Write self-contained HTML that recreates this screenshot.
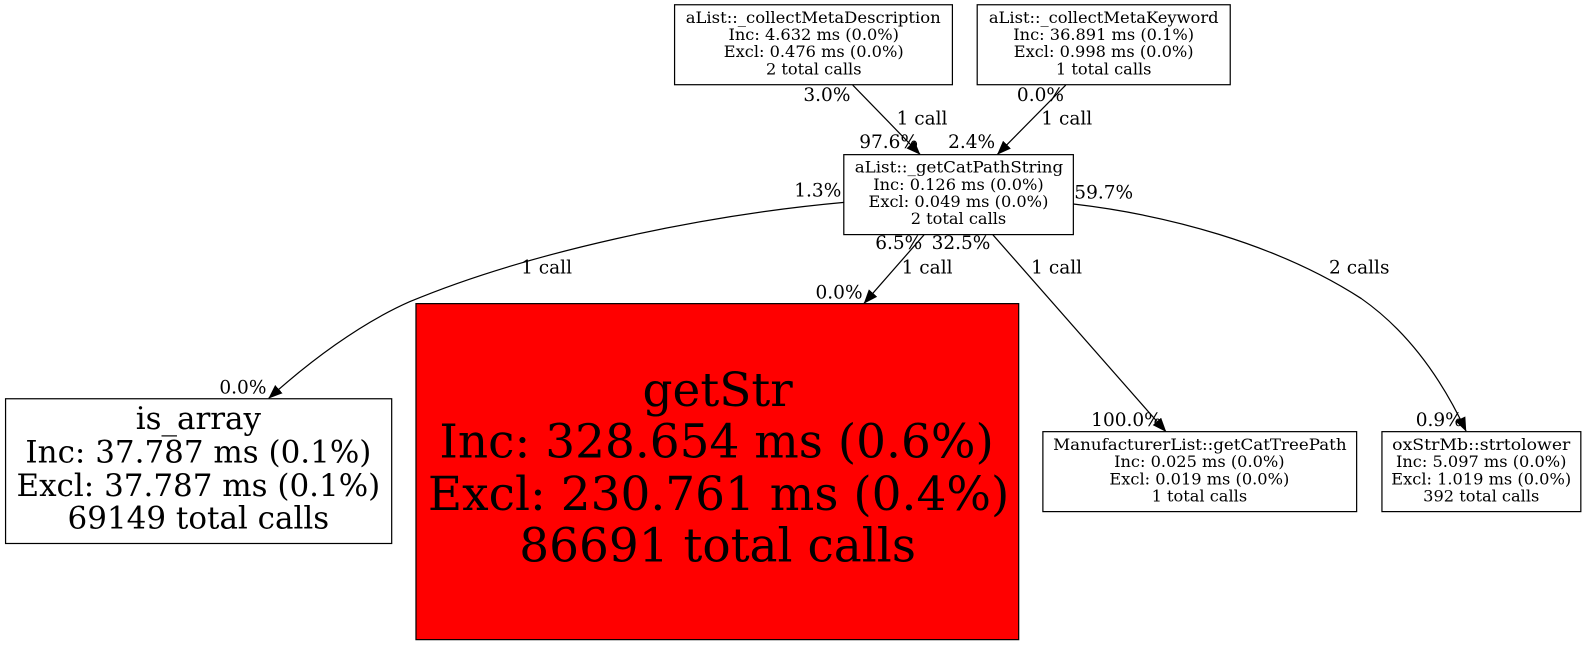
<!DOCTYPE html>
<html><head><meta charset="utf-8"><style>
html,body{margin:0;padding:0;background:#fff;width:1587px;height:645px;overflow:hidden}
svg{display:block}
text{font-family:"DejaVu Serif","Liberation Serif",serif;text-anchor:middle;fill:#000}
</style></head><body>
<svg width="1587" height="645" viewBox="0 0 1568 637.3" preserveAspectRatio="none" xmlns="http://www.w3.org/2000/svg">
<defs><marker id="a" markerWidth="14" markerHeight="12" refX="13.5" refY="5.5" orient="auto" markerUnits="userSpaceOnUse"><path d="M0,0L14,5.5L0,11Z" fill="#000"/></marker></defs>
<g fill="#fff" stroke="#000" stroke-width="1.2">
<rect x="666.5" y="4.7" width="274.5" height="79"/>
<rect x="965.5" y="4.7" width="250" height="79"/>
<rect x="833.7" y="152.8" width="226.8" height="79"/>
<rect x="5.5" y="394" width="381.5" height="143"/>
<rect x="411" y="300" width="595.5" height="332" fill="#f00"/>
<rect x="1030.4" y="426.5" width="310" height="79"/>
<rect x="1365.4" y="426.5" width="196.5" height="79"/>
</g>
<g fill="none" stroke="#000" stroke-width="1.2">
<path d="M842.5,84L909,152.5" marker-end="url(#a)"/>
<path d="M1053,84L985.5,152.5" marker-end="url(#a)"/>
<path d="M834,200C690,213 520,250 405,298C355,320 305,358 265.5,393.5" marker-end="url(#a)"/>
<path d="M913,232L853.7,299.7" marker-end="url(#a)"/>
<path d="M981,232L1152,426.5" marker-end="url(#a)"/>
<path d="M1060.5,201.6C1150,212 1260,240 1345,295C1395,330 1427,380 1448.5,426" marker-end="url(#a)"/>
</g>
<g font-size="16">
<text x="803.5" y="22.5" textLength="252" lengthAdjust="spacingAndGlyphs">aList::_collectMetaDescription</text>
<text x="804" y="39.5">Inc: 4.632 ms (0.0%)</text>
<text x="804" y="56.5">Excl: 0.476 ms (0.0%)</text>
<text x="804" y="73.5">2 total calls</text>
<text x="1090.5" y="22.5" textLength="227" lengthAdjust="spacingAndGlyphs">aList::_collectMetaKeyword</text>
<text x="1090.5" y="39.5">Inc: 36.891 ms (0.1%)</text>
<text x="1090.5" y="56.5">Excl: 0.998 ms (0.0%)</text>
<text x="1090.5" y="73.5">1 total calls</text>
<text x="947.5" y="170.5" textLength="206" lengthAdjust="spacingAndGlyphs">aList::_getCatPathString</text>
<text x="947" y="187.5">Inc: 0.126 ms (0.0%)</text>
<text x="947" y="204.5">Excl: 0.049 ms (0.0%)</text>
<text x="947" y="221.5">2 total calls</text>
<text x="1185.5" y="444.5" textLength="290" lengthAdjust="spacingAndGlyphs">ManufacturerList::getCatTreePath</text>
<text x="1185" y="461.5">Inc: 0.025 ms (0.0%)</text>
<text x="1185" y="478.5">Excl: 0.019 ms (0.0%)</text>
<text x="1185" y="495.5">1 total calls</text>
<text x="1463.5" y="444.5" textLength="176" lengthAdjust="spacingAndGlyphs">oxStrMb::strtolower</text>
<text x="1463.5" y="461.5">Inc: 5.097 ms (0.0%)</text>
<text x="1463.5" y="478.5">Excl: 1.019 ms (0.0%)</text>
<text x="1463.5" y="495.5">392 total calls</text>
</g>
<g font-size="30.6">
<text x="196" y="424">is_array</text>
<text x="196" y="457">Inc: 37.787 ms (0.1%)</text>
<text x="196" y="490">Excl: 37.787 ms (0.1%)</text>
<text x="196" y="522">69149 total calls</text>
</g>
<g font-size="46.4">
<text x="709" y="401">getStr</text>
<text x="708" y="452">Inc: 328.654 ms (0.6%)</text>
<text x="710" y="504">Excl: 230.761 ms (0.4%)</text>
<text x="709" y="555">86691 total calls</text>
</g>
<g font-size="18.3">
<text x="817" y="100">3.0%</text>
<text x="911" y="123">1 call</text>
<text x="878" y="146">97.6%</text>
<text x="1028" y="100">0.0%</text>
<text x="1054" y="123">1 call</text>
<text x="960" y="146">2.4%</text>
<text x="808" y="194">1.3%</text>
<text x="1090.5" y="196">59.7%</text>
<text x="888" y="246">6.5%</text>
<text x="949.5" y="246">32.5%</text>
<text x="540" y="270">1 call</text>
<text x="916" y="270">1 call</text>
<text x="1044" y="270">1 call</text>
<text x="1343" y="270">2 calls</text>
<text x="829" y="295">0.0%</text>
<text x="240" y="389">0.0%</text>
<text x="1113" y="421">100.0%</text>
<text x="1422" y="421">0.9%</text>
</g>
</svg>
</body></html>
